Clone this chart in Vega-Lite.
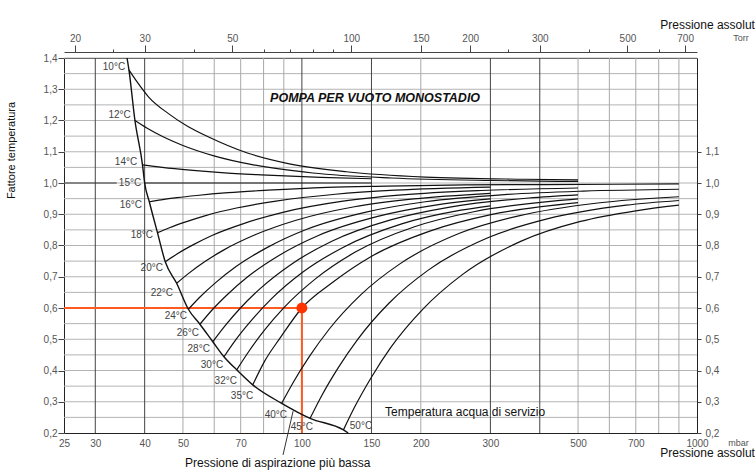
{
  "$schema": "https://vega.github.io/schema/vega-lite/v6.json",
  "width": 633,
  "height": 375,
  "autosize": "none",
  "padding": {"left": 64, "top": 58, "right": 58, "bottom": 43},
  "background": "white",
  "config": {
    "view": {"stroke": "#222", "strokeWidth": 1},
    "font": "Liberation Sans",
    "axis": {"labelFont": "Liberation Sans", "titleFont": "Liberation Sans", "labelOverlap": false, "labelFlush": false},
    "axisY": {"labelOverlap": false},
    "axisLeft": {"labelOverlap": false},
    "text": {"font": "Liberation Sans"}
  },
  "datasets": {
    "hgrid": [{"f":0.25},{"f":0.3},{"f":0.35},{"f":0.4},{"f":0.45},{"f":0.5},{"f":0.55},{"f":0.6},{"f":0.65},{"f":0.7},{"f":0.75},{"f":0.8},{"f":0.85},{"f":0.9},{"f":0.95},{"f":1.0},{"f":1.05},{"f":1.1},{"f":1.15},{"f":1.2},{"f":1.25},{"f":1.3},{"f":1.35},{"f":1.4}],
    "vdark": [{"p":30},{"p":40},{"p":100},{"p":150},{"p":300},{"p":400}],
    "vlight": [{"p":50},{"p":60},{"p":70},{"p":80},{"p":90},{"p":200},{"p":500},{"p":600},{"p":700},{"p":800},{"p":900}],
    "boundary": [
      {"p":36.1,"f":1.4},{"p":36.5,"f":1.362},{"p":37.8,"f":1.2},{"p":39.5,"f":1.058},{"p":40,"f":1.0},{"p":41.1,"f":0.94},{"p":43.1,"f":0.841},{"p":45.1,"f":0.748},{"p":48.2,"f":0.679},{"p":51.6,"f":0.596},{"p":55.2,"f":0.548},{"p":59.5,"f":0.492},{"p":63.5,"f":0.444},{"p":68.4,"f":0.402},{"p":75.1,"f":0.354},{"p":88.9,"f":0.295},{"p":104.9,"f":0.247},{"p":127.4,"f":0.21},{"p":131,"f":0.2}
    ],
    "curves": [
      {"t":"10","p":36.5,"f":1.362},{"t":"10","p":38.2,"f":1.325},{"t":"10","p":40.95,"f":1.275},{"t":"10","p":45.95,"f":1.222},{"t":"10","p":51.6,"f":1.18},{"t":"10","p":57.9,"f":1.148},{"t":"10","p":72.8,"f":1.096},{"t":"10","p":91.7,"f":1.063},{"t":"10","p":129.6,"f":1.036},{"t":"10","p":205.3,"f":1.019},{"t":"10","p":365,"f":1.012},{"t":"10","p":500,"f":1.01},
      {"t":"12","p":37.8,"f":1.2},{"t":"12","p":40.5,"f":1.176},{"t":"12","p":44.4,"f":1.149},{"t":"12","p":49.8,"f":1.121},{"t":"12","p":59.9,"f":1.087},{"t":"12","p":75.4,"f":1.058},{"t":"12","p":106.5,"f":1.032},{"t":"12","p":168.7,"f":1.016},{"t":"12","p":300,"f":1.008},{"t":"12","p":500,"f":1.005},
      {"t":"14","p":39.5,"f":1.058},{"t":"14","p":44.3,"f":1.05},{"t":"14","p":52.1,"f":1.041},{"t":"14","p":62.6,"f":1.033},{"t":"14","p":78.8,"f":1.026},{"t":"14","p":111.6,"f":1.018},{"t":"14","p":150,"f":1.0136},
      {"t":"15","p":40,"f":1.0},{"t":"15","p":150,"f":1.0},
      {"t":"16","p":41.1,"f":0.94},{"t":"16","p":44.0,"f":0.946},{"t":"16","p":48.3,"f":0.953},{"t":"16","p":54.2,"f":0.96},{"t":"16","p":65.1,"f":0.969},{"t":"16","p":82,"f":0.977},{"t":"16","p":115.8,"f":0.986},{"t":"16","p":163.6,"f":0.99},{"t":"16","p":259,"f":0.994},{"t":"16","p":411,"f":0.995},{"t":"16","p":900,"f":0.997},
      {"t":"18","p":43.1,"f":0.841},{"t":"18","p":46.2,"f":0.857},{"t":"18","p":50.6,"f":0.875},{"t":"18","p":56.8,"f":0.895},{"t":"18","p":68.3,"f":0.92},{"t":"18","p":86,"f":0.942},{"t":"18","p":121.5,"f":0.964},{"t":"18","p":171.6,"f":0.977},{"t":"18","p":300,"f":0.987},
      {"t":"20","p":45.1,"f":0.748},{"t":"20","p":48.3,"f":0.773},{"t":"20","p":53,"f":0.802},{"t":"20","p":59.4,"f":0.833},{"t":"20","p":71.5,"f":0.871},{"t":"20","p":90,"f":0.907},{"t":"20","p":127.1,"f":0.942},{"t":"20","p":179.5,"f":0.962},{"t":"20","p":284.6,"f":0.976},{"t":"20","p":500,"f":0.984},
      {"t":"22","p":48.2,"f":0.679},{"t":"22","p":51.6,"f":0.71},{"t":"22","p":56.6,"f":0.747},{"t":"22","p":63.5,"f":0.786},{"t":"22","p":76.4,"f":0.835},{"t":"22","p":96.2,"f":0.88},{"t":"22","p":135.8,"f":0.924},{"t":"22","p":191.9,"f":0.949},{"t":"22","p":300,"f":0.967},
      {"t":"24","p":51.6,"f":0.596},{"t":"24","p":55.3,"f":0.636},{"t":"24","p":60.6,"f":0.682},{"t":"24","p":68,"f":0.732},{"t":"24","p":81.8,"f":0.794},{"t":"24","p":102.9,"f":0.852},{"t":"24","p":145.4,"f":0.907},{"t":"24","p":205.4,"f":0.94},{"t":"24","p":325.6,"f":0.963},{"t":"24","p":516,"f":0.974},{"t":"24","p":900,"f":0.98},
      {"t":"26","p":55.2,"f":0.548},{"t":"26","p":59.1,"f":0.592},{"t":"26","p":64.9,"f":0.644},{"t":"26","p":72.8,"f":0.699},{"t":"26","p":87.5,"f":0.768},{"t":"26","p":110.1,"f":0.832},{"t":"26","p":155.6,"f":0.893},{"t":"26","p":219.7,"f":0.93},{"t":"26","p":300,"f":0.949},
      {"t":"28","p":59.5,"f":0.492},{"t":"28","p":63.8,"f":0.542},{"t":"28","p":69.9,"f":0.6},{"t":"28","p":78.4,"f":0.662},{"t":"28","p":94.3,"f":0.741},{"t":"28","p":118.7,"f":0.813},{"t":"28","p":167.7,"f":0.882},{"t":"28","p":236.9,"f":0.923},{"t":"28","p":375.4,"f":0.952},{"t":"28","p":500,"f":0.962},
      {"t":"30","p":63.5,"f":0.444},{"t":"30","p":68,"f":0.498},{"t":"30","p":74.6,"f":0.561},{"t":"30","p":83.7,"f":0.629},{"t":"30","p":100.6,"f":0.715},{"t":"30","p":126.7,"f":0.793},{"t":"30","p":178.9,"f":0.869},{"t":"30","p":252.8,"f":0.913},{"t":"30","p":300,"f":0.927},
      {"t":"32","p":68.4,"f":0.402},{"t":"32","p":73.3,"f":0.46},{"t":"32","p":80.4,"f":0.529},{"t":"32","p":90.2,"f":0.602},{"t":"32","p":108.4,"f":0.694},{"t":"32","p":136.5,"f":0.779},{"t":"32","p":192.8,"f":0.86},{"t":"32","p":272.3,"f":0.908},{"t":"32","p":431.6,"f":0.942},{"t":"32","p":500,"f":0.949},
      {"t":"35","p":75.1,"f":0.354},{"t":"35","p":80.5,"f":0.43},{"t":"35","p":88.2,"f":0.505},{"t":"35","p":100,"f":0.6},{"t":"35","p":119,"f":0.68},{"t":"35","p":149.8,"f":0.765},{"t":"35","p":211.6,"f":0.847},{"t":"35","p":299,"f":0.898},{"t":"35","p":500,"f":0.937},
      {"t":"40","p":88.9,"f":0.295},{"t":"40","p":95.3,"f":0.364},{"t":"40","p":104.5,"f":0.445},{"t":"40","p":117.2,"f":0.532},{"t":"40","p":140.9,"f":0.642},{"t":"40","p":177.4,"f":0.742},{"t":"40","p":250.5,"f":0.839},{"t":"40","p":353.9,"f":0.895},{"t":"40","p":561,"f":0.936},{"t":"40","p":900,"f":0.956},
      {"t":"45","p":104.9,"f":0.247},{"t":"45","p":112.4,"f":0.321},{"t":"45","p":123.3,"f":0.407},{"t":"45","p":138.3,"f":0.499},{"t":"45","p":166.3,"f":0.616},{"t":"45","p":209.3,"f":0.722},{"t":"45","p":295.6,"f":0.825},{"t":"45","p":417.6,"f":0.885},{"t":"45","p":662,"f":0.929},{"t":"45","p":900,"f":0.944},
      {"t":"50","p":127.4,"f":0.21},{"t":"50","p":136.5,"f":0.287},{"t":"50","p":149.7,"f":0.377},{"t":"50","p":167.9,"f":0.474},{"t":"50","p":201.9,"f":0.595},{"t":"50","p":254.2,"f":0.706},{"t":"50","p":359,"f":0.814},{"t":"50","p":507.2,"f":0.877},{"t":"50","p":700,"f":0.911},{"t":"50","p":900,"f":0.929}
    ],
    "tlabels": [
      {"lab":"10°C","p":35.7,"f":1.371},{"lab":"12°C","p":36.9,"f":1.218},{"lab":"14°C","p":38.3,"f":1.067},{"lab":"15°C","p":39.2,"f":1.0},{"lab":"16°C","p":39.4,"f":0.93},{"lab":"18°C","p":42.0,"f":0.834},{"lab":"20°C","p":44.5,"f":0.728},{"lab":"22°C","p":47.2,"f":0.648},{"lab":"24°C","p":51.2,"f":0.574},{"lab":"26°C","p":54.9,"f":0.52},{"lab":"28°C","p":58.5,"f":0.469},{"lab":"30°C","p":63.2,"f":0.418},{"lab":"32°C","p":68.5,"f":0.366},{"lab":"35°C","p":75.3,"f":0.318},{"lab":"40°C","p":91.7,"f":0.258},{"lab":"45°C","p":106.7,"f":0.219},{"lab":"50°C","p":150.6,"f":0.222}
    ],
    "orange": [{"p":25,"f":0.6,"p2":100,"f2":0.6},{"p":100,"f":0.2,"p2":100,"f2":0.6}],
    "dot": [{"p":100,"f":0.6}],
    "dark": [{"p":25,"f":1.0,"p2":34,"f2":1.0},{"p":89.6,"f":0.13,"p2":95,"f2":0.27}],
    "notes": [
      {"p":162.4,"f":0.267,"text":"Temperatura acqua di servizio"},
      {"p":50.6,"f":0.104,"text":"Pressione di aspirazione più bassa"},
      {"p":807,"f":1.506,"text":"Pressione assoluta"},
      {"p":807,"f":0.136,"text":"Pressione assoluta"}
    ],
    "units": [{"p":1199,"f":0.168,"text":"mbar"},{"p":1235,"f":1.464,"text":"Torr"}],
    "title": [{"p":83.1,"f":1.272,"text":"POMPA PER VUOTO MONOSTADIO"}],
    "leftvals": [{"f":0.2},{"f":0.3},{"f":0.4},{"f":0.5},{"f":0.6},{"f":0.7},{"f":0.8},{"f":0.9},{"f":1.0},{"f":1.1},{"f":1.2},{"f":1.3},{"f":1.4}],
    "one": [{"torr":100,"f":1.0}]
  },
  "layer": [
    {
      "layer": [
        {
          "data": {"name": "hgrid"},
          "mark": {"type": "rule", "color": "#b4b4b4", "strokeWidth": 1},
          "encoding": {
            "y": {"field": "f", "type": "quantitative", "scale": {"domain": [0.2, 1.4], "nice": false, "zero": false}, "axis": null}
          }
        },
        {
          "data": {"name": "vlight"},
          "mark": {"type": "rule", "color": "#a8a8a8", "strokeWidth": 1},
          "encoding": {
            "x": {"field": "p", "type": "quantitative", "scale": {"type": "log", "domain": [25, 1000], "nice": false},
              "axis": {"orient": "bottom", "values": [25,30,40,50,70,100,150,200,300,500,700,1000], "format": "d", "title": null, "grid": false, "ticks": false, "domain": false, "labelPadding": 5, "labelColor": "#555", "labelFontSize": 10, "labelOverlap": false, "labelFlush": false}}
          }
        },
        {
          "data": {"name": "vdark"},
          "mark": {"type": "rule", "color": "#444", "strokeWidth": 1},
          "encoding": {"x": {"field": "p", "type": "quantitative"}}
        },
        {
          "data": {"name": "dark"},
          "mark": {"type": "rule", "color": "#333", "strokeWidth": 1},
          "encoding": {
            "x": {"field": "p", "type": "quantitative"}, "y": {"field": "f", "type": "quantitative"},
            "x2": {"field": "p2"}, "y2": {"field": "f2"}
          }
        },
        {
          "data": {"name": "orange"},
          "mark": {"type": "rule", "color": "#ff5a1f", "strokeWidth": 2},
          "encoding": {
            "x": {"field": "p", "type": "quantitative"}, "y": {"field": "f", "type": "quantitative"},
            "x2": {"field": "p2"}, "y2": {"field": "f2"}
          }
        },
        {
          "data": {"name": "boundary"},
          "mark": {"type": "line", "color": "#111", "strokeWidth": 1.4, "interpolate": "monotone"},
          "encoding": {"x": {"field": "p", "type": "quantitative"}, "y": {"field": "f", "type": "quantitative"}}
        },
        {
          "data": {"name": "curves"},
          "mark": {"type": "line", "color": "#111", "strokeWidth": 1.2, "interpolate": "monotone"},
          "encoding": {"x": {"field": "p", "type": "quantitative"}, "y": {"field": "f", "type": "quantitative"}, "detail": {"field": "t"}}
        },
        {
          "data": {"name": "dot"},
          "mark": {"type": "circle", "color": "#ff3300", "opacity": 1, "size": 120},
          "encoding": {"x": {"field": "p", "type": "quantitative"}, "y": {"field": "f", "type": "quantitative"}}
        },
        {
          "data": {"name": "tlabels"},
          "mark": {"type": "text", "align": "right", "baseline": "middle", "fontSize": 10, "color": "#444"},
          "encoding": {"x": {"field": "p", "type": "quantitative"}, "y": {"field": "f", "type": "quantitative"}, "text": {"field": "lab"}}
        },
        {
          "data": {"name": "notes"},
          "mark": {"type": "text", "align": "left", "baseline": "middle", "fontSize": 12, "color": "#111"},
          "encoding": {"x": {"field": "p", "type": "quantitative"}, "y": {"field": "f", "type": "quantitative"}, "text": {"field": "text"}}
        },
        {
          "data": {"name": "units"},
          "mark": {"type": "text", "align": "left", "baseline": "middle", "fontSize": 9, "color": "#555"},
          "encoding": {"x": {"field": "p", "type": "quantitative"}, "y": {"field": "f", "type": "quantitative"}, "text": {"field": "text"}}
        },
        {
          "data": {"name": "title"},
          "mark": {"type": "text", "align": "left", "baseline": "middle", "fontSize": 12.5, "fontWeight": "bold", "fontStyle": "italic", "color": "#111"},
          "encoding": {"x": {"field": "p", "type": "quantitative"}, "y": {"field": "f", "type": "quantitative"}, "text": {"field": "text"}}
        }
      ]
    },
    {
      "data": {"name": "leftvals"},
      "mark": {"type": "point", "opacity": 0},
      "encoding": {
        "y": {"field": "f", "type": "quantitative", "scale": {"domain": [0.2, 1.4], "nice": false, "zero": false},
          "axis": {"orient": "left", "values": [0.2,0.3,0.4,0.5,0.6,0.7,0.8,0.9,1.0,1.1,1.2,1.3,1.4], "labelExpr": "replace(format(datum.value, '.1f'), '.', ',')", "title": "Fattore temperatura", "titleX": -48, "titleY": 92, "titleAngle": -90, "titleFontSize": 11, "titleFontWeight": "normal", "titleColor": "#111", "grid": false, "domain": false, "tickSize": 6, "tickColor": "#444", "labelColor": "#555", "labelFontSize": 10, "labelPadding": 1, "labelBaseline": "middle", "labelOverlap": false, "labelFlush": false}}
      }
    },
    {
      "data": {"name": "one"},
      "mark": {"type": "point", "opacity": 0},
      "encoding": {
        "x": {"field": "torr", "type": "quantitative", "scale": {"type": "log", "domain": [18.7516, 750.06], "nice": false},
          "axis": {"orient": "top", "values": [20,30,50,100,150,200,300,500,700], "format": "d", "offset": 6, "title": null, "grid": false, "tickSize": 7, "tickColor": "#444", "domainColor": "#444", "labelColor": "#555", "labelFontSize": 10, "labelPadding": 2, "labelOverlap": false, "labelFlush": false}}
      }
    },
    {
      "data": {"name": "one"},
      "mark": {"type": "point", "opacity": 0},
      "encoding": {
        "x": {"field": "torr", "type": "quantitative", "scale": {"type": "log", "domain": [18.7516, 750.06], "nice": false},
          "axis": {"orient": "top", "values": [25,40,60,70,80,90,250,400,600], "offset": 6, "title": null, "grid": false, "labels": false, "domain": false, "tickSize": 3, "tickColor": "#444"}}
      }
    },
    {
      "data": {"name": "one"},
      "mark": {"type": "point", "opacity": 0},
      "encoding": {
        "y": {"field": "f", "type": "quantitative", "scale": {"domain": [0.2, 1.4], "nice": false, "zero": false},
          "axis": {"orient": "right", "values": [0.2,0.3,0.4,0.5,0.6,0.7,0.8,0.9,1.0,1.1], "labelExpr": "replace(format(datum.value, '.1f'), '.', ',')", "title": null, "grid": false, "domain": false, "tickSize": 4, "tickColor": "#444", "labelColor": "#555", "labelFontSize": 10, "labelPadding": 4, "labelBaseline": "middle", "labelOverlap": false, "labelFlush": false}}
      }
    }
  ],
  "resolve": {"scale": {"x": "independent", "y": "independent"}, "axis": {"x": "independent", "y": "independent"}}
}
